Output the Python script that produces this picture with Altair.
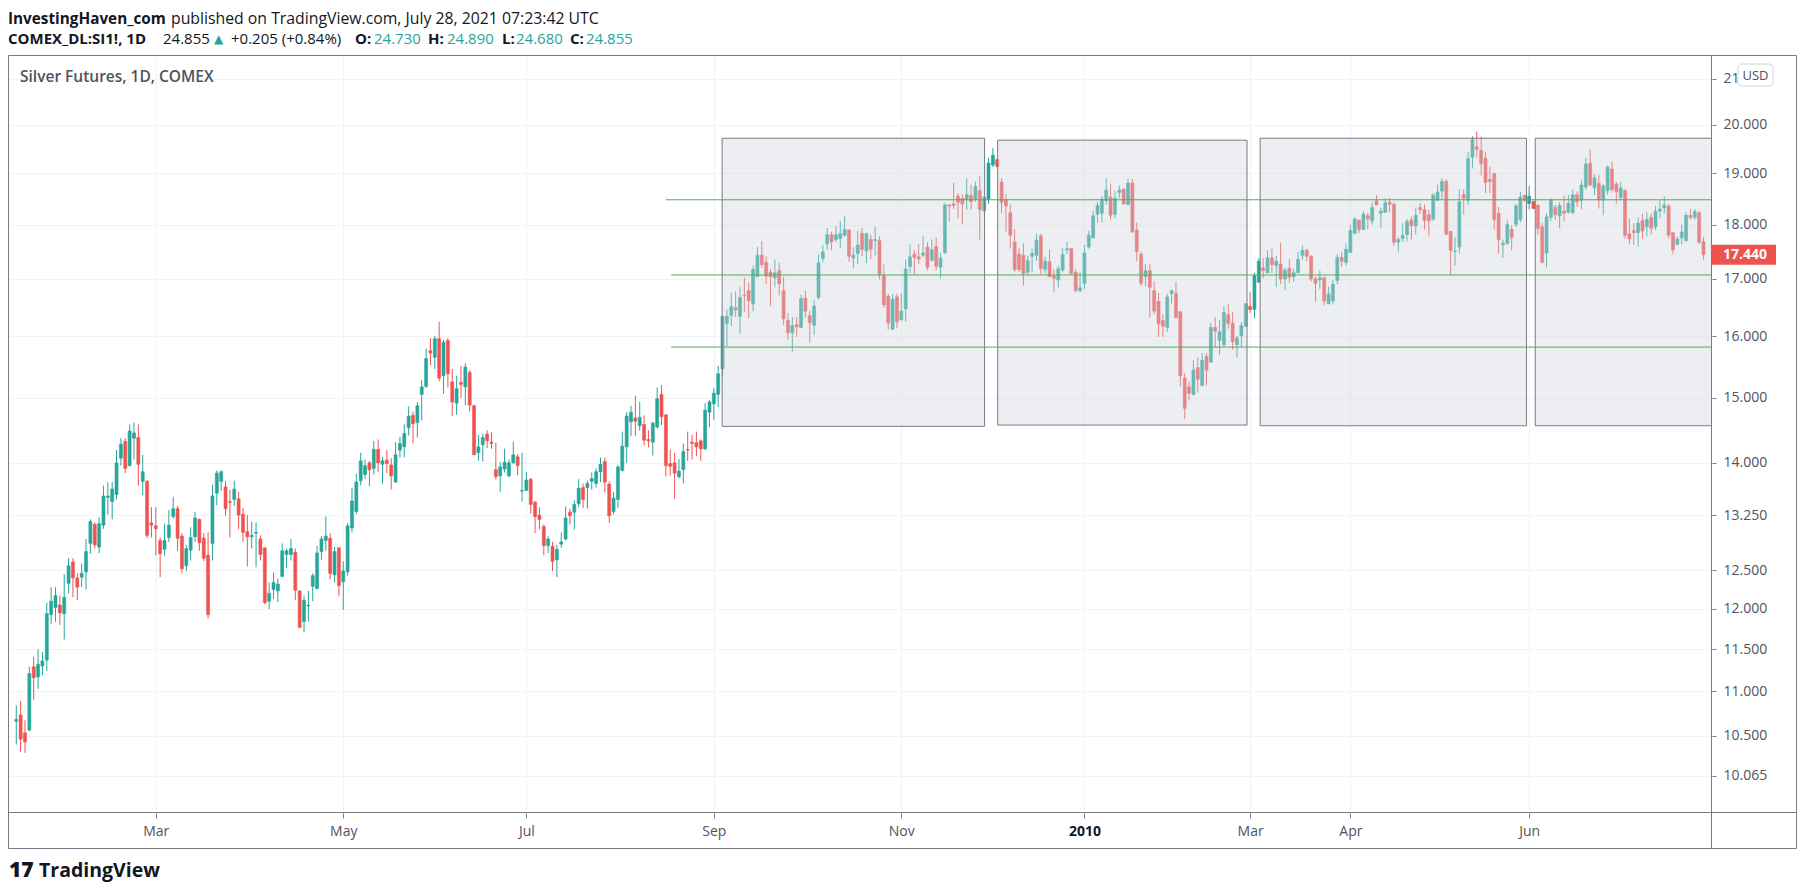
import altair as alt
import pandas as pd

# ---------------- data ----------------
opens = [
    10.66, 10.73, 10.53, 10.56, 11.29, 11.17, 11.30, 11.37, 11.93, 12.02,
    12.05, 11.94, 12.33, 12.61, 12.40, 12.41, 12.48, 12.86, 13.12, 12.81,
    13.11, 13.50, 13.44, 13.54, 14.07, 14.32, 13.96, 14.37, 14.38, 13.73,
    13.73, 13.14, 13.10, 12.90, 12.78, 12.94, 13.23, 13.34, 12.96, 12.56,
    12.77, 12.95, 13.19, 12.93, 12.70, 12.86, 13.56, 13.73, 13.65, 13.44,
    13.47, 13.48, 13.26, 13.02, 12.95, 13.00, 12.92, 12.80, 12.10, 12.25,
    12.23, 12.42, 12.71, 12.71, 12.74, 12.23, 11.84, 12.04, 12.29, 12.26,
    12.75, 12.90, 12.93, 12.44, 12.80, 12.35, 12.48, 13.07, 13.30, 13.74,
    13.83, 14.00, 13.92, 14.20, 13.98, 14.04, 13.97, 13.72, 14.19, 14.24,
    14.53, 14.72, 14.61, 15.05, 15.18, 15.76, 15.65, 15.96, 15.35, 15.93,
    15.25, 14.91, 15.24, 15.17, 15.40, 14.87, 14.15, 14.27, 14.43, 14.31,
    13.90, 13.81, 13.91, 13.81, 14.00, 14.09, 13.59, 13.60, 13.76, 13.43,
    13.25, 13.09, 12.83, 12.82, 12.64, 12.85, 12.92, 13.29, 13.29, 13.41,
    13.64, 13.64, 13.73, 13.70, 13.87, 14.02, 13.69, 13.30, 13.47, 13.89,
    14.24, 14.62, 14.68, 14.56, 14.58, 14.35, 14.31, 14.54, 15.05, 14.73,
    13.99, 14.00, 13.80, 13.90, 14.20, 14.31, 14.30, 14.33, 14.21, 14.77,
    14.90, 15.05, 15.46, 16.22, 16.36, 16.49, 16.34, 16.71, 16.79, 16.56,
    17.04, 17.43, 17.30, 17.12, 17.02, 17.15, 16.79, 16.27, 16.06, 16.20,
    16.15, 16.66, 16.35, 16.19, 16.67, 17.37, 17.64, 17.81, 17.72, 17.74,
    17.80, 17.90, 17.38, 17.46, 17.84, 17.51, 17.72, 17.70, 17.70, 17.06,
    16.69, 16.12, 16.68, 16.28, 16.47, 17.22, 17.45, 17.40, 17.43, 17.58,
    17.34, 17.59, 17.21, 17.48, 18.38, 18.40, 18.55, 18.51, 18.49, 18.56,
    18.49, 18.66, 18.27, 18.48, 19.17, 19.28, 18.83, 18.48, 18.23, 17.67,
    17.45, 17.43, 17.12, 17.41, 17.43, 17.79, 17.17, 17.31, 17.05, 16.98,
    17.16, 17.53, 17.55, 17.12, 16.79, 16.92, 17.58, 17.75, 18.20, 18.22,
    18.46, 18.53, 18.20, 18.62, 18.69, 18.39, 18.81, 17.90, 17.45, 17.04,
    17.15, 16.79, 16.60, 16.27, 16.15, 16.74, 16.74, 16.42, 15.31, 15.17,
    15.05, 15.48, 15.19, 15.66, 15.57, 16.15, 15.93, 15.86, 16.37, 16.22,
    15.86, 16.01, 16.17, 16.51, 16.46, 16.94, 17.20, 17.11, 17.38, 17.24,
    17.27, 17.00, 17.19, 17.04, 17.11, 17.43, 17.52, 17.41, 17.00, 16.98,
    17.02, 16.56, 16.61, 16.97, 17.39, 17.30, 17.48, 17.84, 18.09, 17.91,
    18.17, 18.07, 18.46, 18.22, 18.24, 18.43, 18.39, 17.67, 17.74, 17.81,
    18.09, 17.98, 18.33, 18.29, 18.19, 18.11, 18.47, 18.65, 18.84, 17.87,
    17.50, 17.58, 18.58, 18.47, 19.33, 19.54, 19.47, 19.31, 18.88, 19.00,
    18.22, 17.62, 17.65, 17.91, 18.01, 18.10, 18.57, 18.41, 18.45, 18.38,
    17.96, 17.47, 18.14, 18.33, 18.17, 18.26, 18.24, 18.23, 18.58, 18.47,
    18.73, 19.21, 18.71, 18.80, 18.47, 18.66, 19.09, 18.79, 18.52, 18.66,
    17.83, 17.89, 17.85, 18.08, 17.96, 18.14, 17.96, 18.26, 18.32, 18.36,
    17.85, 17.63, 17.75, 17.70, 18.18, 18.14, 18.23, 17.68,
]
highs = [
    10.84, 10.89, 10.67, 11.29, 11.41, 11.50, 11.47, 12.08, 12.28, 12.28,
    12.17, 12.45, 12.66, 12.66, 12.46, 12.59, 12.92, 13.19, 13.15, 13.22,
    13.67, 13.72, 13.72, 14.19, 14.37, 14.37, 14.58, 14.61, 14.58, 14.12,
    13.75, 13.36, 13.36, 12.94, 13.13, 13.32, 13.51, 13.38, 13.00, 12.84,
    13.08, 13.29, 13.20, 13.00, 13.01, 13.68, 13.89, 13.89, 13.74, 13.61,
    13.74, 13.58, 13.35, 13.25, 13.16, 13.15, 12.97, 12.80, 12.34, 12.47,
    12.39, 12.86, 12.79, 12.92, 12.79, 12.24, 12.17, 12.23, 12.46, 12.83,
    12.96, 13.23, 13.00, 12.81, 12.81, 12.62, 13.14, 13.64, 13.84, 14.15,
    14.05, 14.03, 14.33, 14.35, 14.09, 14.19, 14.07, 14.31, 14.39, 14.58,
    14.86, 14.78, 14.93, 15.28, 15.80, 15.97, 16.01, 16.25, 15.94, 15.97,
    15.46, 15.35, 15.51, 15.55, 15.44, 14.89, 14.42, 14.44, 14.49, 14.46,
    14.30, 14.01, 14.21, 14.05, 14.32, 14.13, 14.15, 13.87, 13.78, 13.45,
    13.36, 13.12, 12.96, 12.88, 12.84, 13.01, 13.37, 13.34, 13.46, 13.76,
    13.70, 13.74, 13.86, 13.92, 14.08, 14.08, 13.73, 13.58, 13.97, 14.47,
    14.77, 14.87, 15.03, 14.93, 14.72, 14.49, 14.62, 15.16, 15.20, 14.73,
    14.20, 14.15, 14.06, 14.29, 14.47, 14.42, 14.47, 14.35, 14.91, 14.96,
    15.15, 15.51, 16.36, 16.46, 16.75, 16.78, 16.85, 17.02, 16.94, 17.24,
    17.58, 17.69, 17.41, 17.18, 17.35, 17.29, 17.04, 16.40, 16.33, 16.33,
    16.72, 16.79, 16.44, 16.62, 17.44, 17.62, 17.94, 17.87, 17.98, 18.07,
    18.16, 17.91, 17.58, 17.88, 17.94, 17.85, 17.81, 17.96, 17.78, 17.26,
    16.73, 16.73, 16.74, 16.74, 17.35, 17.63, 17.53, 17.63, 17.78, 17.67,
    17.72, 17.76, 17.48, 18.42, 18.39, 18.82, 18.61, 18.59, 18.90, 18.78,
    18.84, 18.94, 18.55, 19.32, 19.52, 19.30, 18.91, 18.59, 18.39, 17.92,
    17.57, 17.65, 17.42, 17.55, 17.83, 17.83, 17.40, 17.53, 17.18, 17.24,
    17.56, 17.68, 17.56, 17.17, 17.12, 17.62, 17.88, 18.27, 18.44, 18.55,
    18.90, 18.80, 18.65, 18.76, 18.69, 18.89, 18.89, 18.04, 17.50, 17.27,
    17.27, 16.96, 16.75, 16.37, 16.73, 16.81, 16.95, 16.43, 15.39, 15.26,
    15.60, 15.65, 15.72, 15.72, 16.23, 16.33, 16.28, 16.52, 16.56, 16.41,
    16.01, 16.24, 16.57, 16.76, 17.11, 17.38, 17.38, 17.52, 17.55, 17.42,
    17.66, 17.20, 17.36, 17.18, 17.49, 17.61, 17.55, 17.43, 17.04, 17.15,
    17.04, 16.86, 16.98, 17.45, 17.49, 17.65, 18.00, 18.14, 18.09, 18.26,
    18.23, 18.43, 18.57, 18.33, 18.51, 18.51, 18.43, 17.76, 18.03, 18.11,
    18.16, 18.33, 18.42, 18.39, 18.29, 18.61, 18.78, 18.90, 18.88, 17.89,
    17.77, 18.69, 18.69, 19.44, 19.76, 19.86, 19.75, 19.44, 19.14, 19.00,
    18.34, 17.72, 18.08, 17.99, 18.40, 18.63, 18.57, 18.75, 18.45, 18.38,
    18.03, 18.22, 18.50, 18.38, 18.43, 18.56, 18.57, 18.68, 18.64, 18.86,
    19.31, 19.48, 18.98, 18.97, 18.79, 19.16, 19.24, 18.83, 18.83, 18.69,
    18.12, 18.03, 18.14, 18.21, 18.24, 18.22, 18.36, 18.48, 18.55, 18.40,
    17.85, 17.78, 18.00, 18.24, 18.30, 18.30, 18.26, 17.77,
]
lows = [
    10.40, 10.32, 10.31, 10.55, 10.90, 11.03, 11.19, 11.24, 11.81, 11.84,
    11.80, 11.62, 12.20, 12.15, 12.11, 12.28, 12.25, 12.72, 12.79, 12.73,
    13.06, 13.26, 13.19, 13.47, 13.96, 13.85, 13.95, 14.05, 13.67, 13.53,
    12.93, 12.94, 12.70, 12.41, 12.69, 12.88, 13.20, 12.76, 12.46, 12.49,
    12.63, 12.88, 12.76, 12.62, 11.88, 12.63, 13.39, 13.59, 13.24, 12.94,
    13.38, 13.05, 12.88, 12.55, 12.79, 12.54, 12.63, 12.06, 12.00, 12.13,
    12.09, 12.41, 12.53, 12.63, 12.11, 11.76, 11.71, 11.84, 12.10, 12.26,
    12.64, 12.76, 12.38, 12.34, 12.16, 11.99, 12.43, 13.01, 13.26, 13.67,
    13.77, 13.66, 13.83, 13.87, 13.70, 13.85, 13.61, 13.71, 14.08, 14.08,
    14.41, 14.29, 14.38, 14.64, 15.15, 15.52, 15.46, 15.26, 15.06, 15.16,
    14.71, 14.73, 14.99, 14.88, 14.78, 14.12, 14.03, 14.02, 14.22, 14.21,
    13.76, 13.58, 13.86, 13.79, 13.99, 13.82, 13.44, 13.59, 13.27, 13.00,
    13.05, 12.70, 12.73, 12.49, 12.41, 12.80, 12.90, 13.12, 13.05, 13.36,
    13.35, 13.34, 13.61, 13.64, 13.72, 13.57, 13.14, 13.26, 13.35, 13.87,
    14.00, 14.40, 14.40, 14.48, 14.26, 14.23, 14.11, 14.52, 14.57, 13.80,
    13.81, 13.48, 13.77, 13.70, 14.03, 14.05, 14.10, 14.03, 14.19, 14.54,
    14.65, 14.85, 15.33, 15.83, 16.17, 16.33, 16.04, 16.42, 16.31, 16.43,
    17.03, 17.20, 16.91, 16.52, 16.85, 16.71, 16.19, 15.94, 15.74, 15.99,
    16.15, 16.32, 15.90, 16.02, 16.63, 17.30, 17.53, 17.52, 17.68, 17.56,
    17.77, 17.31, 17.19, 17.26, 17.41, 17.28, 17.36, 17.42, 16.99, 16.49,
    16.11, 16.11, 16.14, 16.27, 16.25, 17.10, 17.07, 17.27, 17.40, 17.15,
    17.31, 17.16, 17.01, 17.45, 18.06, 18.30, 18.13, 18.01, 18.29, 18.29,
    18.44, 17.72, 18.25, 18.40, 19.13, 19.13, 18.22, 17.87, 17.55, 17.12,
    17.12, 16.88, 17.06, 17.12, 17.33, 17.08, 17.10, 17.03, 16.76, 16.84,
    17.12, 17.45, 17.08, 16.76, 16.76, 16.82, 17.55, 17.75, 18.04, 18.04,
    18.38, 18.10, 18.12, 18.51, 18.39, 18.38, 17.86, 17.32, 16.87, 16.87,
    16.32, 16.38, 15.99, 15.99, 16.08, 16.56, 16.32, 15.18, 14.66, 14.95,
    15.03, 15.08, 15.18, 15.19, 15.57, 15.81, 15.69, 15.81, 16.13, 15.78,
    15.65, 15.82, 16.17, 16.40, 16.31, 16.93, 17.01, 17.11, 17.11, 16.86,
    16.91, 16.80, 16.93, 16.95, 17.11, 17.35, 17.32, 16.95, 16.59, 16.82,
    16.53, 16.55, 16.55, 16.91, 17.22, 17.24, 17.48, 17.81, 17.84, 17.90,
    17.91, 18.00, 18.38, 17.94, 18.22, 18.24, 17.60, 17.48, 17.67, 17.69,
    17.72, 17.82, 18.21, 17.91, 17.80, 18.07, 18.47, 18.48, 17.80, 17.07,
    17.24, 17.46, 18.19, 18.38, 19.10, 19.32, 18.96, 18.61, 18.61, 17.91,
    17.46, 17.38, 17.63, 17.52, 17.96, 18.04, 18.44, 18.29, 18.30, 17.81,
    17.28, 17.21, 18.07, 18.09, 17.93, 18.06, 18.21, 18.20, 18.34, 18.30,
    18.67, 18.75, 18.57, 18.31, 18.18, 18.58, 18.62, 18.41, 18.47, 17.74,
    17.63, 17.62, 17.59, 17.73, 17.78, 17.81, 17.90, 18.12, 18.21, 17.74,
    17.44, 17.62, 17.63, 17.68, 18.10, 18.09, 17.64, 17.35,
]
closes = [
    10.68, 10.46, 10.43, 11.21, 11.16, 11.32, 11.36, 11.94, 12.10, 12.17,
    11.95, 12.15, 12.56, 12.40, 12.28, 12.46, 12.75, 13.16, 12.84, 13.13,
    13.52, 13.52, 13.62, 14.00, 14.28, 13.92, 14.48, 14.45, 13.98, 13.87,
    12.97, 13.11, 13.06, 12.72, 12.90, 13.11, 13.34, 12.93, 12.52, 12.79,
    12.94, 13.21, 12.87, 12.66, 11.93, 13.52, 13.85, 13.87, 13.34, 13.43,
    13.62, 13.25, 13.01, 12.95, 12.97, 13.01, 12.71, 12.08, 12.20, 12.34,
    12.32, 12.76, 12.76, 12.79, 12.24, 11.77, 12.11, 12.05, 12.43, 12.73,
    12.92, 12.96, 12.46, 12.75, 12.30, 12.49, 13.10, 13.45, 13.72, 14.03,
    13.96, 13.90, 14.20, 14.00, 14.03, 13.99, 13.81, 14.12, 14.29, 14.44,
    14.71, 14.59, 14.87, 15.17, 15.63, 15.72, 15.96, 15.31, 15.90, 15.38,
    14.93, 15.14, 15.21, 15.49, 14.88, 14.12, 14.24, 14.38, 14.33, 14.29,
    13.80, 13.94, 14.01, 14.00, 14.12, 13.96, 13.60, 13.75, 13.40, 13.23,
    13.19, 12.83, 12.92, 12.62, 12.78, 12.88, 13.21, 13.24, 13.40, 13.63,
    13.47, 13.70, 13.77, 13.87, 13.98, 13.72, 13.24, 13.49, 13.94, 14.25,
    14.71, 14.77, 14.63, 14.69, 14.34, 14.33, 14.60, 14.98, 14.70, 13.96,
    13.95, 13.85, 13.88, 14.17, 14.19, 14.29, 14.24, 14.21, 14.80, 14.93,
    15.07, 15.38, 16.34, 16.34, 16.51, 16.45, 16.67, 16.70, 16.61, 17.17,
    17.43, 17.26, 17.05, 17.04, 17.11, 16.91, 16.30, 16.06, 16.18, 16.16,
    16.65, 16.43, 16.23, 16.52, 17.29, 17.49, 17.81, 17.68, 17.81, 17.83,
    17.91, 17.41, 17.43, 17.62, 17.54, 17.83, 17.54, 17.72, 17.08, 16.54,
    16.23, 16.64, 16.25, 16.43, 17.18, 17.40, 17.39, 17.36, 17.47, 17.21,
    17.53, 17.23, 17.38, 18.38, 18.36, 18.37, 18.43, 18.40, 18.58, 18.44,
    18.74, 18.29, 18.53, 19.21, 19.37, 19.14, 18.43, 18.36, 17.80, 17.17,
    17.17, 17.09, 17.33, 17.46, 17.71, 17.19, 17.32, 17.04, 17.01, 17.18,
    17.44, 17.55, 17.10, 16.79, 16.84, 17.47, 17.80, 18.17, 18.37, 18.49,
    18.67, 18.18, 18.51, 18.67, 18.40, 18.81, 17.86, 17.50, 16.92, 17.15,
    16.85, 16.43, 16.21, 16.17, 16.68, 16.79, 16.32, 15.35, 14.83, 15.07,
    15.44, 15.29, 15.60, 15.44, 16.15, 16.09, 16.08, 16.41, 16.22, 15.91,
    15.97, 16.18, 16.56, 16.46, 17.06, 17.32, 17.15, 17.38, 17.26, 17.32,
    17.00, 17.16, 17.03, 17.11, 17.35, 17.52, 17.41, 17.00, 16.92, 17.02,
    16.61, 16.73, 16.90, 17.39, 17.32, 17.54, 17.89, 18.11, 17.91, 18.20,
    18.11, 18.33, 18.38, 18.26, 18.42, 18.39, 17.67, 17.72, 17.80, 18.06,
    17.98, 18.18, 18.29, 18.08, 18.07, 18.57, 18.63, 18.84, 17.82, 17.52,
    17.51, 18.44, 18.51, 19.30, 19.69, 19.49, 19.20, 18.82, 18.84, 18.10,
    17.72, 17.65, 18.00, 17.76, 18.36, 18.53, 18.47, 18.55, 18.31, 17.93,
    17.30, 18.15, 18.49, 18.19, 18.37, 18.22, 18.41, 18.58, 18.44, 18.77,
    19.19, 18.77, 18.91, 18.48, 18.75, 19.13, 18.68, 18.64, 18.71, 17.80,
    17.73, 17.85, 18.03, 17.88, 18.10, 17.93, 18.26, 18.30, 18.38, 17.80,
    17.53, 17.73, 17.86, 18.18, 18.14, 18.25, 17.67, 17.44,
]

# x axis: trading-day index of each month label
tick_idx = [32, 75, 117, 160, 203, 245, 283, 306, 347]
tick_labels = ["Mar", "May", "Jul", "Sep", "Nov", "2010", "Mar", "Apr", "Jun"]
price_ticks = [10.065, 10.5, 11, 11.5, 12, 12.5, 13.25, 14, 15, 16, 17, 18, 19, 20, 21]

# drawn rectangles (trading-day index / price)
box_x1 = [161.9, 225.1, 285.3, 348.4]
box_x2 = [222.1, 282.3, 346.4, 400.0]
box_top = [19.72, 19.68, 19.72, 19.72]
box_bottom = [14.55, 14.57, 14.56, 14.56]

# horizontal green levels
level_price = [18.48, 17.07, 15.82]
level_start = [149.0, 150.2, 150.2]
level_end = [400.0, 400.0, 400.0]

last_price = [17.44]

# ---------------- styling ----------------
UP = "#26a69a"
DN = "#ef5350"
TXT = "#131722"
AX = "#50535e"
FRAME = "#787b86"
GRID = "#f0f3fa"
FONT = "Open Sans"

W, H = 1704, 758

df = pd.DataFrame({"i": list(range(len(closes))), "o": opens, "h": highs,
                   "l": lows, "c": closes})

xs = alt.Scale(domain=[-0.75, 387.8], nice=False, zero=False)
ys = alt.Scale(type="log", domain=[9.676, 21.53], nice=False, zero=False)

label_expr = ("[" + ",".join("'%s'" % t for t in tick_labels) + "][indexof(["
              + ",".join(str(v) for v in tick_idx) + "], datum.value)]")

xaxis = alt.Axis(values=tick_idx, labelExpr=label_expr, title=None, grid=True,
                 gridColor=GRID, domain=False, ticks=True, tickSize=5,
                 tickColor=FRAME, labelFont=FONT, labelFontSize=14,
                 labelColor={"condition": {"test": "datum.value == 245", "value": TXT}, "value": AX},
                 labelFontWeight={"condition": {"test": "datum.value == 245", "value": "bold"}, "value": "normal"},
                 labelPadding=13, labelBaseline="middle", labelFlush=False,
                 labelOverlap=False)
# the top tick label is partly hidden behind the currency badge
yaxis = alt.Axis(orient="right", values=price_ticks, title=None,
                 labelExpr="datum.value >= 21 ? '21' : format(datum.value, '.3f')",
                 grid=True, gridColor=GRID, domain=False, tickSize=4,
                 tickColor=FRAME, labelFont=FONT, labelFontSize=14,
                 labelColor=AX, labelPadding=7, labelFlush=False,
                 labelOverlap=False)

updown = alt.condition("datum.c >= datum.o", alt.value(UP), alt.value(DN))

base = alt.Chart(df)
wicks = base.mark_rule(strokeWidth=1).encode(
    x=alt.X("i:Q", scale=xs, axis=xaxis),
    y=alt.Y("l:Q", scale=ys, axis=yaxis),
    y2="h:Q",
    color=updown,
)
bodies = base.mark_bar(size=3, strokeWidth=0.6).encode(
    x=alt.X("i:Q", scale=xs, axis=xaxis),
    y=alt.Y("o:Q", scale=ys, axis=yaxis),
    y2="c:Q",
    color=updown,
    stroke=updown,
)

boxes = alt.Chart(pd.DataFrame({"x1": box_x1, "x2": box_x2, "t": box_top,
                                "b": box_bottom})).mark_rect(
    fill="#d1d4dc", fillOpacity=0.4, stroke=FRAME, strokeWidth=1, clip=True
).encode(
    x=alt.X("x1:Q", scale=xs, axis=xaxis), x2="x2:Q",
    y=alt.Y("t:Q", scale=ys, axis=yaxis), y2="b:Q",
)

levels = alt.Chart(pd.DataFrame({"p": level_price, "s": level_start,
                                 "e": level_end})).mark_rule(
    color="#4caf50", strokeWidth=1, clip=True
).encode(
    x=alt.X("s:Q", scale=xs, axis=xaxis), x2="e:Q",
    y=alt.Y("p:Q", scale=ys, axis=yaxis),
)

lab = alt.Chart(pd.DataFrame({"p": last_price})).transform_calculate(
    lo="datum.p * exp(-10 / 948)", hi="datum.p * exp(10 / 948)")
lab_rect = lab.mark_rect(color=DN).encode(
    x=alt.value(W), x2=alt.value(W + 64),
    y=alt.Y("lo:Q", scale=ys, axis=yaxis), y2="hi:Q")
lab_text = lab.mark_text(color="white", font=FONT, fontSize=14,
                         fontWeight="bold", align="center", baseline="middle").encode(
    x=alt.value(W + 33), y=alt.Y("p:Q", scale=ys, axis=yaxis),
    text=alt.Text("p:Q", format=".3f"))

one = pd.DataFrame({"k": [0]})


def rule(x, y, x2=None, y2=None):
    enc = {"x": alt.value(x), "y": alt.value(y)}
    if x2 is not None:
        enc["x2"] = alt.value(x2)
    if y2 is not None:
        enc["y2"] = alt.value(y2)
    return alt.Chart(one).mark_rule(color=FRAME, strokeWidth=1).encode(**enc)


FR_R, FR_B = 1788.5, 793.5
frame = [
    rule(0.5, 0.5, x2=FR_R),
    rule(0.5, FR_B, x2=FR_R),
    rule(0.5, 0.5, y2=FR_B),
    rule(FR_R, 0.5, y2=FR_B),
    rule(W - 0.5, 0.5, y2=FR_B),
    rule(0.5, H - 0.5, x2=FR_R),
]

usd_rect = alt.Chart(one).mark_rect(fill="white", stroke="#d1d4dc",
                                    strokeWidth=1, cornerRadius=4).encode(
    x=alt.value(1730), x2=alt.value(1765), y=alt.value(9), y2=alt.value(31))
usd_text = alt.Chart(one).mark_text(font=FONT, fontSize=13, color=AX,
                                    align="center", baseline="middle").encode(
    x=alt.value(1747.5), y=alt.value(20.5), text=alt.value("USD"))


def txt(s, x, y, size=15, weight="normal", color=TXT, font=FONT):
    return alt.Chart(one).mark_text(font=font, fontSize=size, fontWeight=weight,
                                    color=color, align="left",
                                    baseline="middle").encode(
        x=alt.value(x), y=alt.value(y), text=alt.value(s))


Y1, Y2 = -36.5, -16.5
header = [
    txt("InvestingHaven_com", 0, Y1, size=15.3, weight="bold"),
    txt("published on TradingView.com, July 28, 2021 07:23:42 UTC", 163, Y1, size=15.8),
    txt("COMEX_DL:SI1!, 1D", 0, Y2, weight="bold"),
    txt("24.855", 155, Y2),
    txt("\u25b2", 206, Y2, size=12, color=UP, font="DejaVu Sans"),
    txt("+0.205 (+0.84%)", 223, Y2),
    txt("O:", 347, Y2, weight="bold"),
    txt("24.730", 366, Y2, color=UP),
    txt("H:", 420, Y2, weight="bold"),
    txt("24.890", 439, Y2, color=UP),
    txt("L:", 494, Y2, weight="bold"),
    txt("24.680", 508, Y2, color=UP),
    txt("C:", 562, Y2, weight="bold"),
    txt("24.855", 578, Y2, color=UP),
    txt("Silver Futures, 1D, COMEX", 12, 22, size=15.5, weight=600, color=AX),
    txt("17", 1, 816, size=21, weight=900),
    txt("TradingView", 31, 816, size=19.5, weight="bold"),
]

chart = alt.layer(
    wicks, bodies, boxes, levels, lab_rect, lab_text, usd_rect, usd_text,
    *frame, *header,
).properties(
    width=W, height=H,
    padding={"left": 0, "top": 47, "right": 85, "bottom": 70},
    autosize=alt.AutoSizeParams(type="none"),
    background="white",
).configure_view(stroke=None)

chart.save("out.html", embed_options={"renderer": "svg", "actions": False})
